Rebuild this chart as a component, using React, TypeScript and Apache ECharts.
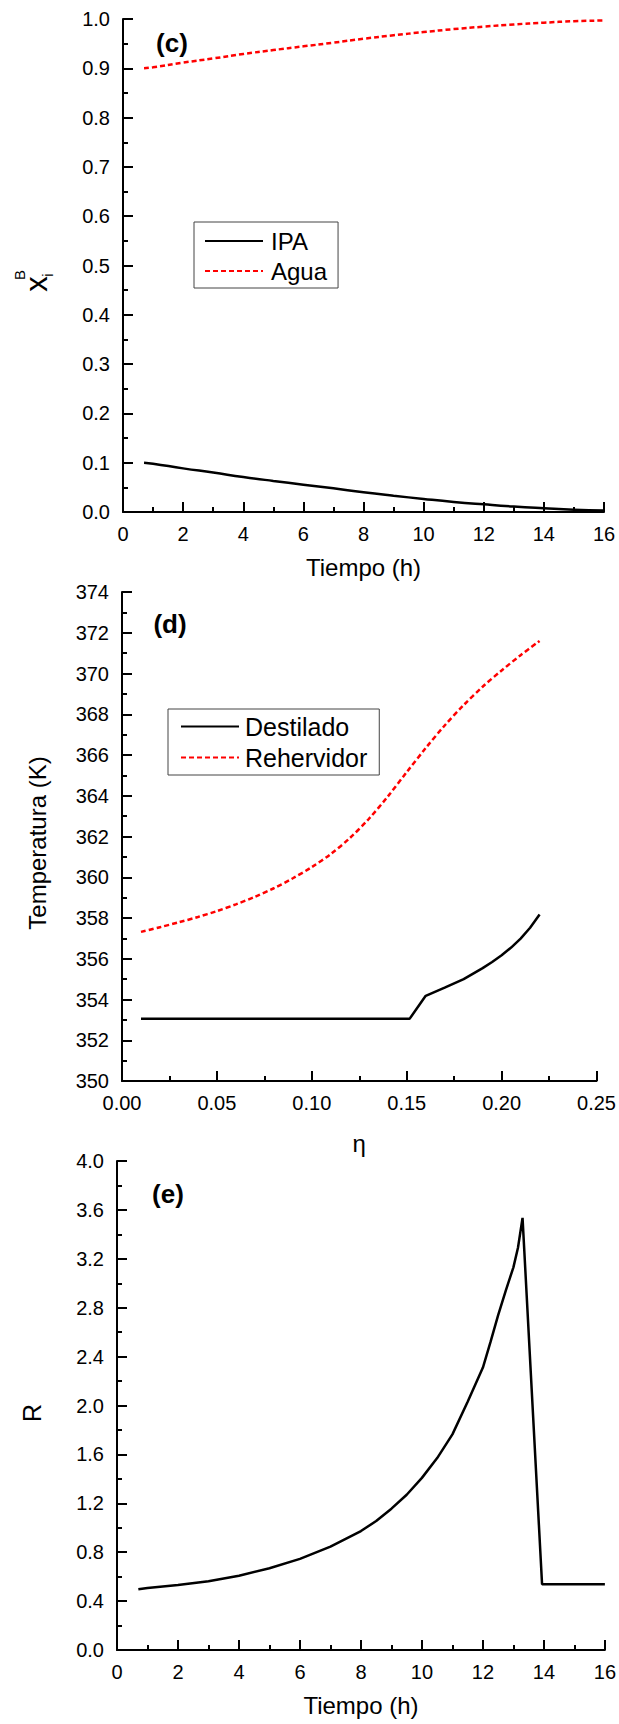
import React, { useEffect, useRef } from "react";
import * as echarts from "echarts";

// ---- Panel (c): composition in the reboiler vs time ----
const timeC = [0.7, 1, 2, 3, 4, 5, 6, 7, 8, 9, 10, 11, 12, 13, 14, 15, 16];
const ipaC = [0.1, 0.098, 0.0885, 0.08, 0.071, 0.063, 0.0555, 0.048, 0.04, 0.033, 0.0265, 0.0205, 0.0155, 0.011, 0.0075, 0.0045, 0.003];
const aguaC = [0.9, 0.902, 0.9115, 0.92, 0.929, 0.937, 0.9445, 0.952, 0.96, 0.967, 0.9735, 0.9795, 0.9845, 0.989, 0.9925, 0.9955, 0.997];

// ---- Panel (d): temperature vs eta ----
const etaDest = [0.01, 0.1515, 0.16, 0.17, 0.18, 0.19, 0.195, 0.2, 0.205, 0.21, 0.215, 0.22];
const destilado = [353.05, 353.05, 354.18, 354.58, 355.0, 355.54, 355.84, 356.17, 356.55, 356.99, 357.52, 358.17];
const etaReh = [0.01, 0.02, 0.03, 0.04, 0.05, 0.06, 0.07, 0.08, 0.09, 0.1, 0.11, 0.12, 0.13, 0.14, 0.15, 0.16, 0.17, 0.18, 0.19, 0.2, 0.21, 0.22];
const rehervidor = [357.32, 357.55, 357.79, 358.05, 358.34, 358.67, 359.04, 359.46, 359.95, 360.5, 361.14, 361.92, 362.86, 363.96, 365.16, 366.34, 367.45, 368.45, 369.35, 370.15, 370.9, 371.6];

// ---- Panel (e): reflux ratio vs time ----
const timeE = [0.7, 1, 2, 3, 4, 5, 6, 7, 8, 8.5, 9, 9.5, 10, 10.5, 11, 11.5, 12, 12.25, 12.5, 12.75, 13, 13.15, 13.3, 13.94, 16];
const refluxE = [0.497, 0.508, 0.532, 0.563, 0.608, 0.669, 0.745, 0.846, 0.973, 1.055, 1.156, 1.27, 1.408, 1.57, 1.764, 2.03, 2.31, 2.52, 2.74, 2.94, 3.13, 3.29, 3.535, 0.538, 0.538];

const zip = (xs: number[], ys: number[]) => xs.map((x, i) => [x, ys[i]]);

const FONT = "Liberation Sans, Arial, sans-serif";

function makeAxis(gridIndex: number, min: number, max: number, interval: number, digits: number, margin: number, extra: any = {}) {
  return {
    type: "value",
    gridIndex,
    min,
    max,
    interval,
    axisLine: { show: true, onZero: false, lineStyle: { color: "#000", width: 2 } },
    axisTick: { show: true, inside: true, length: 10, lineStyle: { color: "#000", width: 2 } },
    minorTick: { show: true, splitNumber: 2, length: 5, lineStyle: { color: "#000", width: 2 } },
    splitLine: { show: false },
    minorSplitLine: { show: false },
    axisLabel: {
      fontSize: 20,
      color: "#000",
      fontFamily: FONT,
      margin,
      formatter: (v: number) => v.toFixed(digits),
    },
    ...extra,
  };
}

const nameStyle = { fontSize: 24, color: "#000", fontFamily: FONT };

export default function App() {
  const ref = useRef<HTMLDivElement>(null);
  useEffect(() => {
    if (!ref.current) return;
    const chart = echarts.init(ref.current, undefined, { renderer: "svg" });
    const black = { color: "#000", width: 2.5 };
    const red = { color: "#ff0000", width: 2.5, type: [5, 3] };
    const legendBase = {
      orient: "vertical",
      itemWidth: 58,
      itemHeight: 14,
      itemGap: 6,
      borderColor: "#444",
      borderWidth: 1,
      itemStyle: { opacity: 0 },
    };
    const option: any = {
      animation: false,
      backgroundColor: "#fff",
      textStyle: { fontFamily: FONT, color: "#000" },
      grid: [
        { left: 123, top: 19, width: 481, height: 493 },
        { left: 122, top: 592, width: 477, height: 489 },
        { left: 117, top: 1161, width: 488, height: 489 },
      ],
      xAxis: [
        makeAxis(0, 0, 16, 2, 0, 12, { name: "Tiempo (h)", nameLocation: "middle", nameGap: 43, nameTextStyle: nameStyle }),
        makeAxis(1, 0, 0.25, 0.05, 2, 12, { name: "η", nameLocation: "middle", nameGap: 50, nameTextStyle: nameStyle }),
        makeAxis(2, 0, 16, 2, 0, 12, { name: "Tiempo (h)", nameLocation: "middle", nameGap: 43, nameTextStyle: nameStyle }),
      ],
      yAxis: [
        makeAxis(0, 0, 1, 0.1, 1, 13),
        makeAxis(1, 350, 374, 2, 0, 13),
        makeAxis(2, 0, 4, 0.4, 1, 13),
      ],
      legend: [
        {
          ...legendBase,
          data: ["IPA", "Agua"],
          left: 194,
          top: 222,
          padding: [7, 11, 5, 10],
          textStyle: { fontSize: 24, color: "#000", fontFamily: FONT, padding: [0, 0, 0, 3] },
        },
        {
          ...legendBase,
          data: ["Destilado", "Rehervidor"],
          left: 168,
          top: 709,
          padding: [5, 12, 5, 12],
          textStyle: { fontSize: 25, color: "#000", fontFamily: FONT, padding: [0, 0, 0, 1] },
        },
      ],
      series: [
        { type: "line", name: "IPA", xAxisIndex: 0, yAxisIndex: 0, data: zip(timeC, ipaC), symbol: "none", smooth: true, lineStyle: black, itemStyle: { color: "#000" } },
        { type: "line", name: "Agua", xAxisIndex: 0, yAxisIndex: 0, data: zip(timeC, aguaC), symbol: "none", smooth: true, lineStyle: red, itemStyle: { color: "#ff0000" } },
        { type: "line", name: "Destilado", xAxisIndex: 1, yAxisIndex: 1, data: zip(etaDest, destilado), symbol: "none", lineStyle: black, itemStyle: { color: "#000" } },
        { type: "line", name: "Rehervidor", xAxisIndex: 1, yAxisIndex: 1, data: zip(etaReh, rehervidor), symbol: "none", smooth: 0.3, lineStyle: red, itemStyle: { color: "#ff0000" } },
        { type: "line", name: "R", xAxisIndex: 2, yAxisIndex: 2, data: zip(timeE, refluxE), symbol: "none", lineStyle: black, itemStyle: { color: "#000" } },
      ],
      graphic: [
        { type: "text", x: 172, y: 43, style: { text: "(c)", font: `bold 26px ${FONT}`, fill: "#000", align: "center", verticalAlign: "middle" } },
        { type: "text", x: 170, y: 624, style: { text: "(d)", font: `bold 26px ${FONT}`, fill: "#000", align: "center", verticalAlign: "middle" } },
        { type: "text", x: 168, y: 1194, style: { text: "(e)", font: `bold 26px ${FONT}`, fill: "#000", align: "center", verticalAlign: "middle" } },
        { type: "text", x: 36, y: 284, rotation: Math.PI / 2, style: { text: "x", font: `31px ${FONT}`, fill: "#000", align: "center", verticalAlign: "middle" } },
        { type: "text", x: 19, y: 275, rotation: Math.PI / 2, style: { text: "B", font: `15px ${FONT}`, fill: "#000", align: "center", verticalAlign: "middle" } },
        { type: "text", x: 47, y: 275, rotation: Math.PI / 2, style: { text: "i", font: `15px ${FONT}`, fill: "#000", align: "center", verticalAlign: "middle" } },
        { type: "text", x: 37, y: 843, rotation: Math.PI / 2, style: { text: "Temperatura (K)", font: `24px ${FONT}`, fill: "#000", align: "center", verticalAlign: "middle" } },
        { type: "text", x: 32, y: 1413, rotation: Math.PI / 2, style: { text: "R", font: `25px ${FONT}`, fill: "#000", align: "center", verticalAlign: "middle" } },
      ],
    };
    chart.setOption(option);
    return () => chart.dispose();
  }, []);
  return <div ref={ref} style={{ position: "absolute", left: 0, top: 0, width: 619, height: 1724 }} />;
}
